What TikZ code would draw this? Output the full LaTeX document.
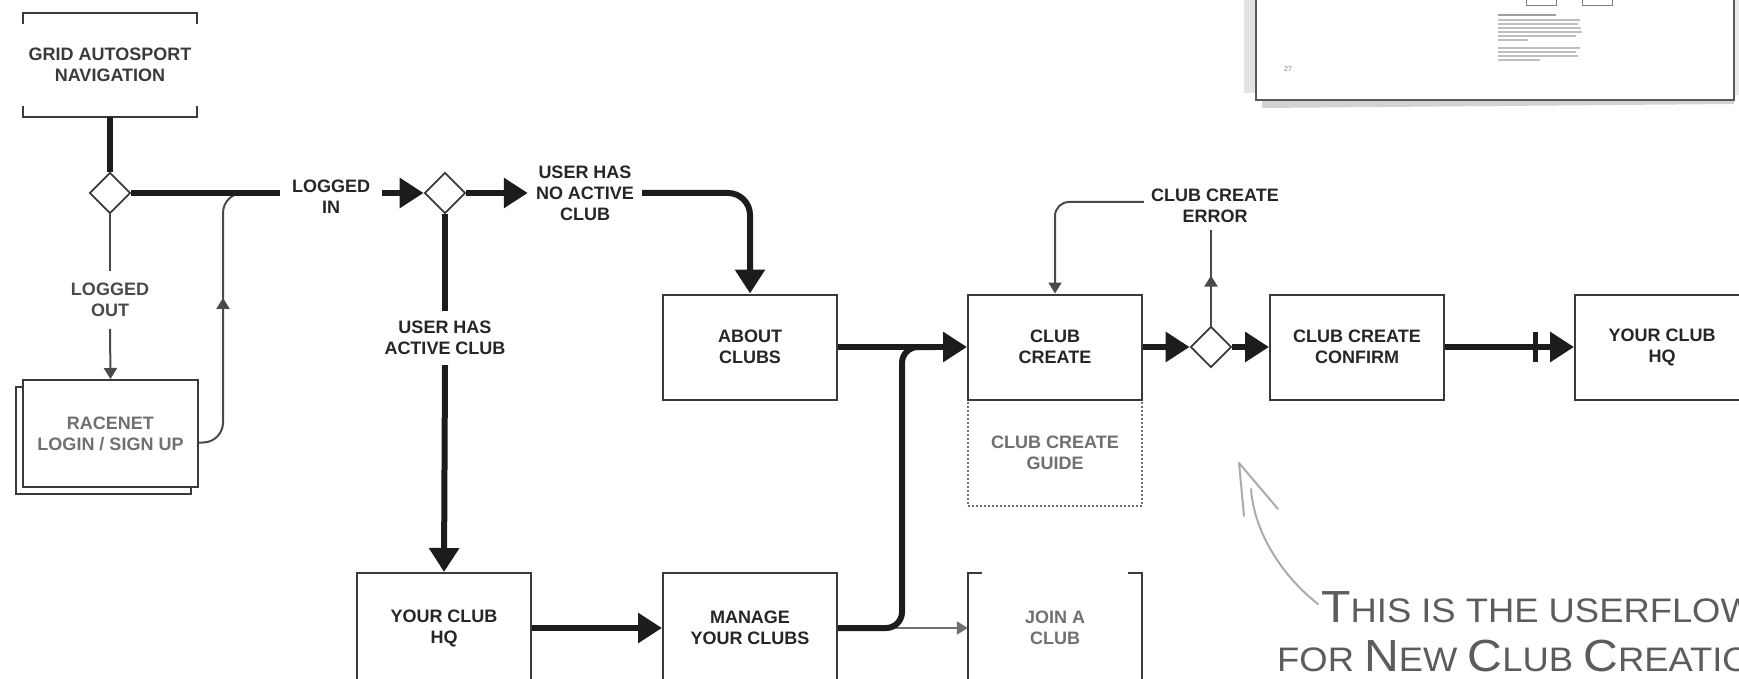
\documentclass[tikz,border=0pt]{standalone}
\usepackage{fontspec}
\setmainfont{Liberation Sans}
\usetikzlibrary{arrows.meta,shapes.geometric,decorations.markings}
\definecolor{ink}{HTML}{1C1C1C}
\definecolor{edge}{HTML}{3A3A3A}
\definecolor{txt}{HTML}{262626}
\definecolor{mid}{HTML}{4A4A4A}
\definecolor{soft}{HTML}{707070}
\definecolor{thinln}{HTML}{4A4A4A}
\definecolor{hand}{HTML}{5C5C5C}
\definecolor{handarrow}{HTML}{ABABAB}
\newcommand{\handcap}[1]{{\fontsize{45}{47}\selectfont #1}}
\begin{document}
\begin{tikzpicture}[x=1pt,y=-1pt,
  lbl/.style={font=\fontsize{18}{21}\selectfont\bfseries, text=txt, align=center, inner sep=9pt},
  box/.style={draw=edge, line width=2pt, fill=white, minimum width=174pt, minimum height=105pt, align=center, font=\fontsize{18}{21}\selectfont\bfseries, text=txt, inner sep=0pt},
  gbox/.style={box, text=soft},
  dia/.style={diamond, draw=edge, line width=1.8pt, fill=white, minimum width=41pt, minimum height=41pt, inner sep=0pt, aspect=1},
  heavy/.style={draw=ink, line width=6pt},
  heavyarrow/.style={heavy, -{Triangle[length=24pt,width=29pt]}},
  light/.style={draw=thinln, line width=2pt},
  lightarrow/.style={light, -{Triangle[length=11pt,width=13pt]}},
  midtip/.style={postaction={decorate}, decoration={markings, mark=at position #1 with {\arrow{Triangle[length=11pt,width=13pt]}}}},
  handfont/.style={anchor=base west, inner sep=0pt, text=hand, font=\fontsize{34}{38}\selectfont},
]
\useasboundingbox (0,0) rectangle (1739,679);

% ---- page thumbnail (top right)
\fill[gray!22] (1244,0) rectangle (1257,93);
\fill[gray!16] (1733,0) rectangle (1739,95);
\fill[gray!35] (1262,99) -- (1734,99) -- (1734,104) -- (1262,108) -- cycle;
\draw[draw=gray!70!black, line width=1.5pt, fill=white] (1256,-5) rectangle (1734,100);
\draw[gray, line width=1pt] (1526,-5) rectangle (1556,6);
\draw[gray, line width=1pt] (1582,-5) rectangle (1612,6);
\node[font=\fontsize{7}{8}\selectfont, text=gray, inner sep=0pt] (pgnum) at (1288,69) {27};
\draw[gray!75, line width=1.6pt] (1498,15) -- ++(58,0);
\foreach \yy/\ll in {20/82, 24/80, 28/83, 32/84, 36/78, 40/30, 48/82, 52/78, 56/80, 60/42}
  \draw[gray!50, line width=1.3pt] (1498,\yy) -- ++(\ll,0);

% ---- nodes
\node[lbl, text=edge, minimum width=174pt, minimum height=104pt, inner sep=0pt] (nav) at (110,65) {GRID AUTOSPORT\\NAVIGATION};
\draw[edge, line width=2.5pt] ([yshift=-11pt]nav.north west) -- (nav.north west) -- (nav.north east) -- ([yshift=-11pt]nav.north east);
\draw[edge, line width=2.5pt] ([yshift=11pt]nav.south west) -- (nav.south west) -- (nav.south east) -- ([yshift=11pt]nav.south east);

\node[dia] (d1) at (110,193) {};
\node[lbl, inner sep=12pt] (login) at (331,197) {LOGGED\\IN};
\node[dia] (d2) at (445,193) {};
\node[lbl, inner sep=8pt] (noclub) at (585,193) {USER HAS\\NO ACTIVE\\CLUB};
\node[box] (about) at (750,347) {ABOUT\\CLUBS};
\node[gbox, draw=soft, dotted, line width=1.5pt, minimum height=106pt] (guide) at (1055,453) {CLUB CREATE\\GUIDE};
\node[box] (create) at (1055,347) {CLUB\\CREATE};
\node[lbl, inner sep=7pt] (err) at (1215,206) {CLUB CREATE\\ERROR};
\node[dia] (d3) at (1211,347) {};
\node[box] (confirm) at (1357,347) {CLUB CREATE\\CONFIRM};
\node[box] (hqr) at (1662,347) {YOUR CLUB\\HQ};

\node[lbl, text=mid, inner sep=12pt] (out) at (110,300) {LOGGED\\OUT};
\draw[edge, line width=2pt, fill=white] (16,387) rectangle (191,494);
\node[gbox, minimum width=175pt, minimum height=107pt] (racenet) at (110.5,433.5) {RACENET\\LOGIN / SIGN UP};

\node[lbl, inner sep=10pt] (active) at (445,338) {USER HAS\\ACTIVE CLUB};
\node[box, minimum height=110pt] (hql) at (444,628) {YOUR CLUB\\HQ};
\node[box, minimum height=110pt] (manage) at (750,628) {MANAGE\\YOUR CLUBS};
\node[lbl, text=soft, minimum width=174pt, minimum height=110pt, inner sep=0pt] (join) at (1055,628) {JOIN A\\CLUB};
\draw[edge, line width=2pt] ([xshift=14pt]join.north west) -- (join.north west) -- (join.south west) -- ([xshift=14pt]join.south west);
\draw[edge, line width=2pt] ([xshift=-14pt]join.north east) -- (join.north east) -- (join.south east) -- ([xshift=-14pt]join.south east);

% ---- thin connectors
\draw[light] (d1.south) -- (out.north);
\draw[lightarrow] (out.south) -- (racenet.north);
\coordinate (rc) at (223,193);
\coordinate (rd) at (262,193);
\draw[light, rounded corners=20pt, midtip=160pt] ([yshift=-9pt]racenet.east) -| (rc) -- (rd);
\draw[lightarrow, draw=soft] (manage.east) -- (join.west);
\draw[lightarrow, rounded corners=14pt] ([yshift=4pt]err.west) -| (create.north);
\draw[light, midtip=50pt] (d3.north) -- (d3.north |- err.south);

% ---- heavy connectors
\draw[heavy] (nav.south) -- (d1.north);
\draw[heavy] (d1.east) -- (d1.east -| login.west);
\draw[heavyarrow] (login.east |- d2.west) -- (d2.west);
\draw[heavyarrow] (d2.east) -- (noclub.west);
\draw[heavyarrow, rounded corners=22pt] (noclub.east) -| (about.north);
\draw[heavy] (d2.south) -- (active.north);
\draw[heavyarrow] (active.south) -- (hql.north);
\draw[heavyarrow] (hql.east) -- (manage.west);
\draw[heavyarrow] (about.east) -- (create.west);
\coordinate (mj) at (902,347);
\coordinate (mk) at (935,347);
\draw[heavy, rounded corners=16pt] (manage.east) -| (mj) -- (mk);
\draw[heavyarrow] (create.east) -- (d3.west);
\draw[heavyarrow] (d3.east) -- (confirm.west);
\draw[heavyarrow] (confirm.east) -- (hqr.west);
\path[decoration={markings, mark=at position 90pt with {\fill[ink] (-2.5,-15) rectangle (2.5,15);}}, decorate] (confirm.east) -- (hqr.west);

% ---- handwritten note
\node[handfont] (note1) at (1321,622) {\scalebox{1.07}[1]{\handcap{T}HIS IS THE USERFLOW}};
\node[handfont] (note2) at (1277,671) {\scalebox{1.07}[1]{FOR \handcap{N}EW \handcap{C}LUB \handcap{C}REATION}};
\coordinate (ha) at (1318,604);
\coordinate (hb) at (1251,489);
\coordinate (ht) at (1239,463);
\coordinate (hl) at (1244,516);
\coordinate (hr) at (1278,509);
\draw[handarrow, line width=2pt, line cap=round] (ha) .. controls (1282,576) and (1254,532) .. (hb);
\draw[handarrow, line width=2pt, line cap=round, line join=round] (hl) -- (ht) -- (hr);
\end{tikzpicture}
\end{document}
